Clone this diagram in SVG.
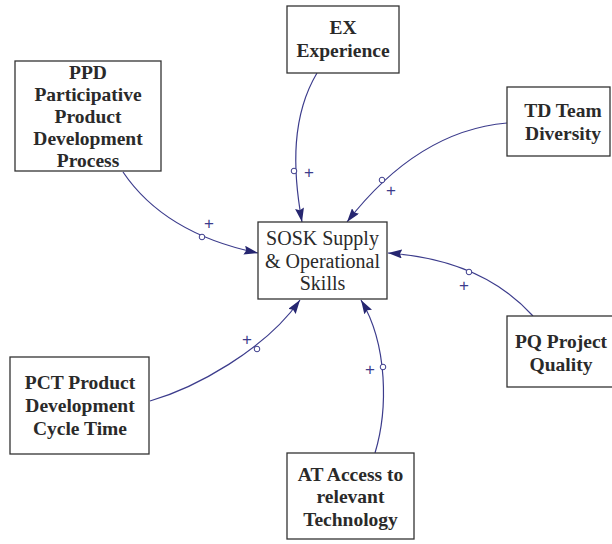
<svg xmlns="http://www.w3.org/2000/svg" width="612" height="544" viewBox="0 0 612 544">
  <style>
    .box { fill: #ffffff; stroke: #333333; stroke-width: 1.3; }
    .lbl { font-family: "Liberation Serif", "Times New Roman", serif; font-size: 19.5px; font-weight: bold; fill: #2a2a2a; text-anchor: middle; }
    .reg { font-weight: normal; font-size: 20px; }
    .link { fill: none; stroke: #3c3c8c; stroke-width: 1.2; marker-end: url(#head); }
    .dot { fill: #ffffff; stroke: #3c3c8c; stroke-width: 1; }
    .pol { font-family: "Liberation Sans", Arial, sans-serif; font-size: 17px; fill: #3c3c8c; text-anchor: middle; }
  </style>
  <defs>
    <marker id="head" viewBox="0 0 14 9" refX="14" refY="4.5" markerWidth="14" markerHeight="9" markerUnits="userSpaceOnUse" orient="auto">
      <path d="M0,0 L14,4.5 L0,9 L2,4.5 Z" fill="#262670"/>
    </marker>
  </defs>
  <rect width="612" height="544" fill="#ffffff"/>

  <!-- causal links -->
  <g id="connectors">
    <path class="link" d="M317,73 C292,115 292,167 302,222"/>
    <circle class="dot" cx="294" cy="171" r="2.8"/>
    <text class="pol" x="309" y="178">+</text>

    <path class="link" d="M507,123 C450,128 395,160 347,222"/>
    <circle class="dot" cx="382" cy="180" r="2.8"/>
    <text class="pol" x="391" y="196">+</text>

    <path class="link" d="M123,172 C150,212 195,240 258,253"/>
    <circle class="dot" cx="202" cy="237" r="2.8"/>
    <text class="pol" x="209" y="229">+</text>

    <path class="link" d="M533,316 C505,285 460,258 388,253"/>
    <circle class="dot" cx="469" cy="272" r="2.8"/>
    <text class="pol" x="464" y="291">+</text>

    <path class="link" d="M150,401 C195,388 265,350 300,300"/>
    <circle class="dot" cx="257" cy="349" r="2.8"/>
    <text class="pol" x="247" y="345">+</text>

    <path class="link" d="M375,453 C388,410 388,345 361,300"/>
    <circle class="dot" cx="383" cy="367" r="2.8"/>
    <text class="pol" x="370" y="375">+</text>
  </g>

  <!-- variables -->
  <g id="sosk">
    <rect class="box" x="258" y="222" width="129" height="77"/>
    <text class="lbl reg" x="322.5" y="245">SOSK Supply</text>
    <text class="lbl reg" x="322.5" y="268">&amp; Operational</text>
    <text class="lbl reg" x="322.5" y="290">Skills</text>
  </g>

  <g id="ex">
    <rect class="box" x="287" y="6" width="112" height="67"/>
    <text class="lbl" x="343" y="34">EX</text>
    <text class="lbl" x="343" y="57">Experience</text>
  </g>

  <g id="ppd">
    <rect class="box" x="15" y="61" width="146" height="110"/>
    <text class="lbl" x="88" y="79">PPD</text>
    <text class="lbl" x="88" y="101">Participative</text>
    <text class="lbl" x="88" y="123">Product</text>
    <text class="lbl" x="88" y="145">Development</text>
    <text class="lbl" x="88" y="167">Process</text>
  </g>

  <g id="td">
    <rect class="box" x="507" y="87" width="103" height="69"/>
    <text class="lbl" x="563" y="117">TD Team</text>
    <text class="lbl" x="563" y="140">Diversity</text>
  </g>

  <g id="pq">
    <rect class="box" x="507" y="316" width="115" height="71"/>
    <text class="lbl" x="561" y="348">PQ Project</text>
    <text class="lbl" x="561" y="371">Quality</text>
  </g>

  <g id="pct">
    <rect class="box" x="10" y="357" width="139" height="97"/>
    <text class="lbl" x="80" y="389">PCT Product</text>
    <text class="lbl" x="80" y="412">Development</text>
    <text class="lbl" x="80" y="435">Cycle Time</text>
  </g>

  <g id="at">
    <rect class="box" x="287" y="453" width="127" height="86"/>
    <text class="lbl" x="350.5" y="481">AT Access to</text>
    <text class="lbl" x="350.5" y="503">relevant</text>
    <text class="lbl" x="350.5" y="526">Technology</text>
  </g>
</svg>
